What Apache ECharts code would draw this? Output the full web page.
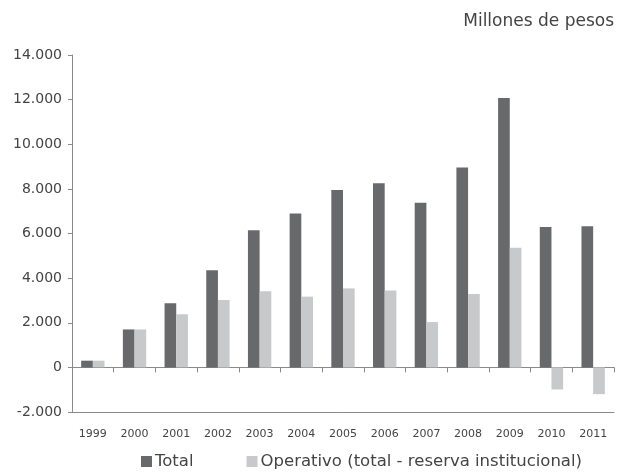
<!DOCTYPE html>
<html>
<head>
<meta charset="utf-8">
<script src="https://cdn.jsdelivr.net/npm/echarts@6/dist/echarts.min.js"></script>
<style>html,body{margin:0;padding:0;background:#fff}#c{width:618px;height:476px}</style>
</head>
<body>
<div id="c"></div>
<script>
const years = ['1999','2000','2001','2002','2003','2004','2005','2006','2007','2008','2009','2010','2011'];
const total = [300, 1700, 2870, 4350, 6150, 6900, 7950, 8250, 7380, 8960, 12070, 6290, 6330];
const operativo = [300, 1700, 2380, 3020, 3410, 3170, 3540, 3440, 2030, 3290, 5360, -990, -1200];
const seriesNames = ['Total', 'Operativo (total - reserva institucional)'];
const unitLabel = 'Millones de pesos';

const fontFam = '"DejaVu Sans", sans-serif';
const chart = echarts.init(document.getElementById('c'));
chart.setOption({
  animation: false,
  backgroundColor: '#fff',
  title: {
    text: unitLabel, right: 4, top: 13, padding: 0,
    textStyle: {fontFamily: fontFam, fontSize: 17, fontWeight: 'normal', color: '#444'}
  },
  legend: {
    bottom: 6, left: 141, padding: 0, itemGap: 53, itemWidth: 11, itemHeight: 11,
    icon: 'rect',
    textStyle: {fontFamily: fontFam, fontSize: 16.5, color: '#444', padding: [0, 0, 0, -2]},
    data: seriesNames
  },
  grid: {left: 72, right: 4, top: 55, bottom: 64},
  xAxis: [
    {
      type: 'category', data: years,
      axisLine: {onZero: true, lineStyle: {color: '#8a8a8a', width: 1}},
      axisTick: {show: true, inside: false, length: 5, lineStyle: {color: '#8a8a8a'}},
      axisLabel: {show: false}
    },
    {
      type: 'category', data: years, position: 'bottom',
      axisLine: {onZero: false, lineStyle: {color: '#8a8a8a', width: 1}},
      axisTick: {show: false},
      axisLabel: {fontFamily: fontFam, fontSize: 11, color: '#444', margin: 17}
    }
  ],
  yAxis: {
    type: 'value', min: -2000, max: 14000, interval: 2000,
    axisLine: {show: true, lineStyle: {color: '#8a8a8a'}},
    axisTick: {show: true, length: 4, lineStyle: {color: '#8a8a8a'}},
    splitLine: {show: false},
    axisLabel: {
      fontFamily: fontFam, fontSize: 14, color: '#444', margin: 10,
      formatter: v => v === 0 ? '0' : (v < 0 ? '-' : '') + Math.abs(v).toLocaleString('de-DE')
    }
  },
  series: [
    {name: seriesNames[0], type: 'bar', data: total, xAxisIndex: 0, barGap: '0%', barCategoryGap: '44%',
     itemStyle: {color: '#68696b'}},
    {name: seriesNames[1], type: 'bar', data: operativo, xAxisIndex: 0,
     itemStyle: {color: '#c8c9cb'}}
  ]
});
</script>
</body>
</html>
